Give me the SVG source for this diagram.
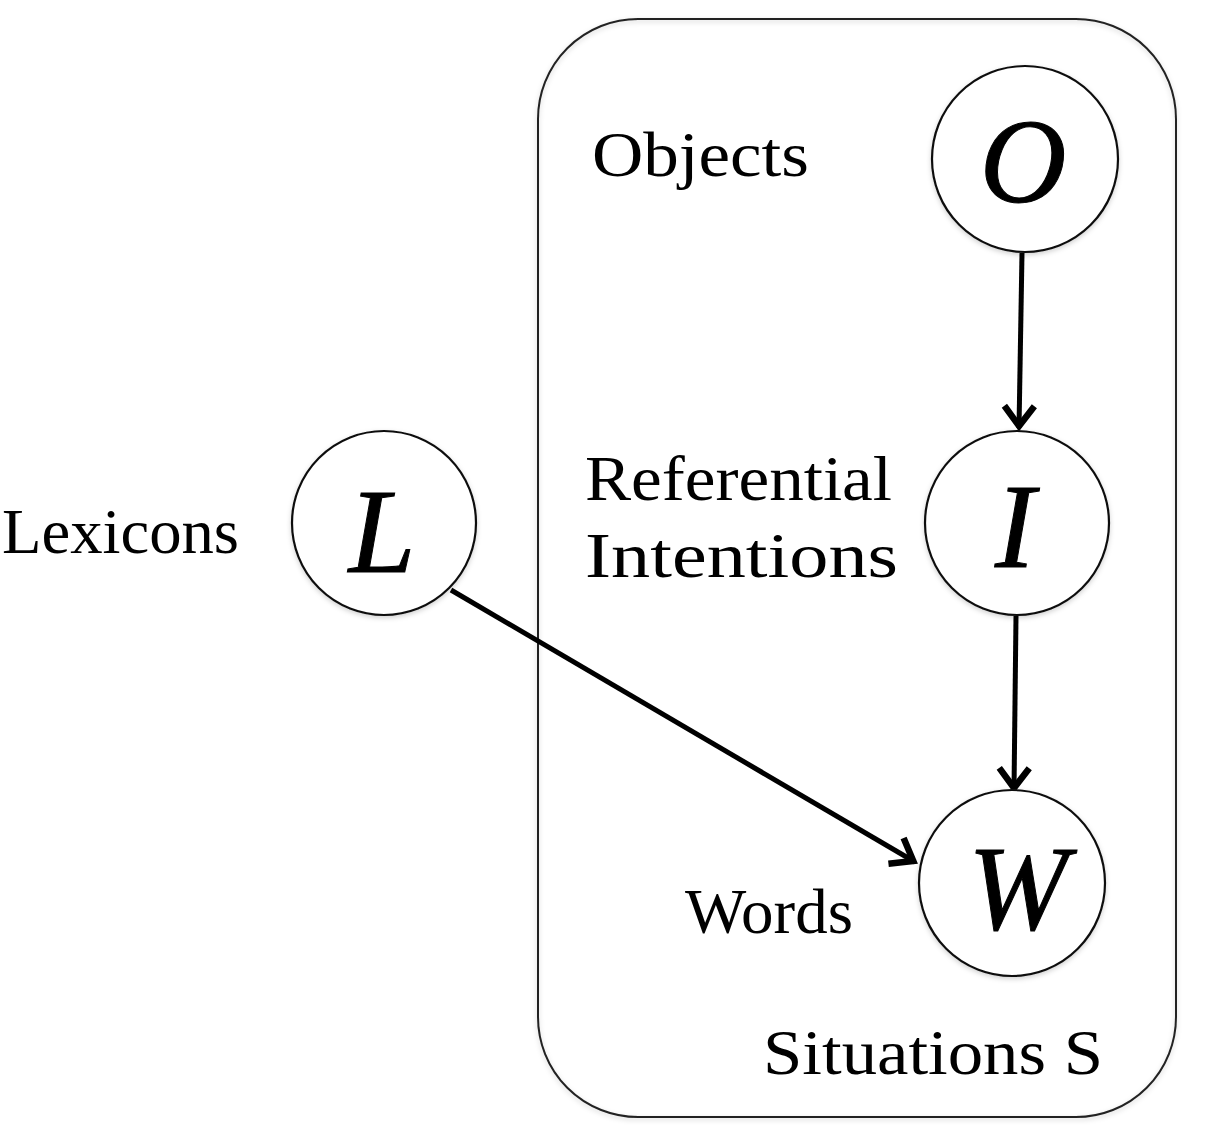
<svg xmlns="http://www.w3.org/2000/svg" width="1212" height="1146" viewBox="0 0 1212 1146">
<style>
.node{fill:#fff;stroke:#111;stroke-width:2.2;filter:url(#sh)}
.lbl{font-family:"Liberation Serif","Times New Roman",serif;font-size:64px;fill:#000}
.var{font-family:"Liberation Serif","Times New Roman",serif;font-style:italic;font-size:120px;fill:#000;text-anchor:middle;stroke:#000;stroke-width:1}
.edge{stroke:#000;stroke-width:5;fill:none;marker-end:url(#ah)}
</style>
<defs>
<filter id="sh" x="-20%" y="-20%" width="140%" height="140%">
<feDropShadow dx="0" dy="2" stdDeviation="2.5" flood-color="#000" flood-opacity="0.18"/>
</filter>
<marker id="ah" markerUnits="userSpaceOnUse" markerWidth="50" markerHeight="50" viewBox="-25 -25 50 50" refX="0" refY="0" orient="auto">
<path d="M -22,-15 L -2,0 L -22,15" fill="none" stroke="#000" stroke-width="6.5" stroke-linejoin="miter"/>
</marker>
</defs>
<rect width="1212" height="1146" fill="#fff"/>
<g id="plate">
<rect x="538" y="19" width="638" height="1098" rx="100" ry="100" fill="none" stroke="#222" stroke-width="2" filter="url(#sh)"/>
<text class="lbl" x="763" y="1074" textLength="340" lengthAdjust="spacingAndGlyphs">Situations S</text>
</g>
<g id="connectors">
<line class="edge" x1="1022" y1="253" x2="1019" y2="428"/>
<line class="edge" x1="1016" y1="616" x2="1014" y2="790"/>
<line class="edge" x1="451" y1="590" x2="915" y2="862"/>
</g>
<g id="node-O">
<circle class="node" cx="1025" cy="159" r="93"/>
<text class="var" x="1023" y="202">O</text>
<text class="lbl" x="592" y="176" textLength="217" lengthAdjust="spacingAndGlyphs">Objects</text>
</g>
<g id="node-I">
<circle class="node" cx="1017" cy="523" r="92"/>
<text class="var" x="1015" y="567">I</text>
<text class="lbl" x="585" y="500" textLength="307" lengthAdjust="spacingAndGlyphs">Referential</text>
<text class="lbl" x="585" y="577" textLength="313" lengthAdjust="spacingAndGlyphs">Intentions</text>
</g>
<g id="node-L">
<circle class="node" cx="384" cy="523" r="92"/>
<text class="var" x="382" y="572">L</text>
<text class="lbl" x="2" y="553" textLength="237" lengthAdjust="spacingAndGlyphs">Lexicons</text>
</g>
<g id="node-W">
<circle class="node" cx="1012" cy="883" r="93"/>
<text class="var" x="1018" y="929">W</text>
<text class="lbl" x="685" y="933" textLength="168" lengthAdjust="spacingAndGlyphs">Words</text>
</g>
</svg>
